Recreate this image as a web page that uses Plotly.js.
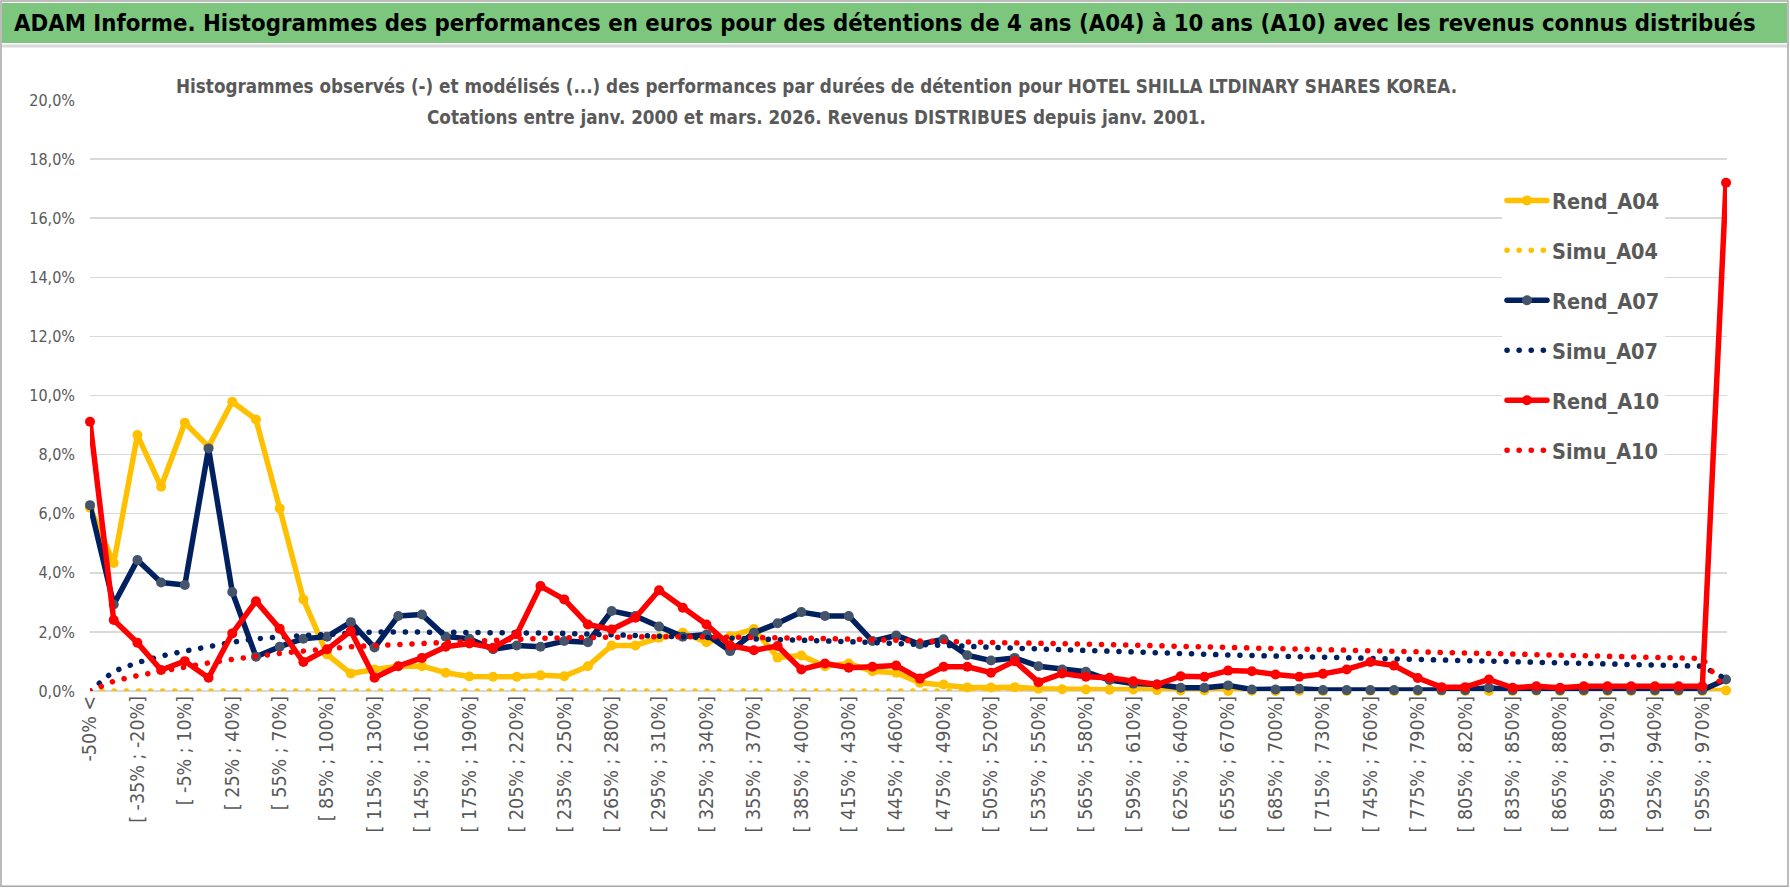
<!DOCTYPE html>
<html>
<head>
<meta charset="utf-8">
<script src="https://cdn.plot.ly/plotly-3.0.1.min.js"></script>
<style>
html,body{margin:0;padding:0;background:#fff;}
#chart{width:1790px;height:888px;}
.js-line{stroke-linecap:round;stroke-linejoin:round;}
</style>
</head>
<body>
<div id="chart"></div>
<script>
const categories = [
"-50% <","[ -50% ; -35%]","[ -35% ; -20%]","[ -20% ; -5%]","[ -5% ; 10%]","[ 10% ; 25%]","[ 25% ; 40%]","[ 40% ; 55%]",
"[ 55% ; 70%]","[ 70% ; 85%]","[ 85% ; 100%]","[ 100% ; 115%]","[ 115% ; 130%]","[ 130% ; 145%]","[ 145% ; 160%]","[ 160% ; 175%]",
"[ 175% ; 190%]","[ 190% ; 205%]","[ 205% ; 220%]","[ 220% ; 235%]","[ 235% ; 250%]","[ 250% ; 265%]","[ 265% ; 280%]","[ 280% ; 295%]",
"[ 295% ; 310%]","[ 310% ; 325%]","[ 325% ; 340%]","[ 340% ; 355%]","[ 355% ; 370%]","[ 370% ; 385%]","[ 385% ; 400%]","[ 400% ; 415%]",
"[ 415% ; 430%]","[ 430% ; 445%]","[ 445% ; 460%]","[ 460% ; 475%]","[ 475% ; 490%]","[ 490% ; 505%]","[ 505% ; 520%]","[ 520% ; 535%]",
"[ 535% ; 550%]","[ 550% ; 565%]","[ 565% ; 580%]","[ 580% ; 595%]","[ 595% ; 610%]","[ 610% ; 625%]","[ 625% ; 640%]","[ 640% ; 655%]",
"[ 655% ; 670%]","[ 670% ; 685%]","[ 685% ; 700%]","[ 700% ; 715%]","[ 715% ; 730%]","[ 730% ; 745%]","[ 745% ; 760%]","[ 760% ; 775%]",
"[ 775% ; 790%]","[ 790% ; 805%]","[ 805% ; 820%]","[ 820% ; 835%]","[ 835% ; 850%]","[ 850% ; 865%]","[ 865% ; 880%]","[ 880% ; 895%]",
"[ 895% ; 910%]","[ 910% ; 925%]","[ 925% ; 940%]","[ 940% ; 955%]","[ 955% ; 970%]","> 970%"
];

const rendA04 = [6.2,4.33,8.66,6.91,9.08,8.27,9.79,9.19,6.18,3.1,1.24,0.59,0.73,0.84,0.84,0.62,0.49,0.48,0.48,0.53,
0.5,0.84,1.54,1.54,1.8,1.97,1.65,1.85,2.1,1.13,1.2,0.84,0.93,0.67,0.62,0.28,0.22,0.12,0.12,0.13,
0.08,0.06,0.05,0.04,0.05,0.03,0.02,0.02,0.0,0.01,0.0,0.01,0.0,0.0,0.01,0.0,0.0,0.01,0.0,0.0,
0.0,0.01,0.0,0.0,0.0,0.0,0.0,0.0,0.0,0.02];

const simuA04 = [0,0,0,0,0,0,0,0,0,0,0,0,0,0,0,0,0,0,0,0,0,0,0,0,0,0,0,0,0,0,0,0,0,0,0,
0,0,0,0,0,0,0,0,0,0,0,0,0,0,0,0,0,0,0,0,0,0,0,0,0,0,0,0,0,0,0,0,0,0,0];

const rendA07 = [6.29,2.93,4.43,3.67,3.59,8.21,3.35,1.16,1.5,1.77,1.84,2.33,1.47,2.54,2.59,1.84,1.77,1.41,1.54,1.5,
1.69,1.65,2.71,2.54,2.18,1.84,1.91,1.35,1.97,2.29,2.67,2.54,2.54,1.69,1.88,1.58,1.75,1.21,1.03,1.12,
0.84,0.73,0.65,0.37,0.25,0.22,0.11,0.11,0.19,0.05,0.05,0.08,0.03,0.03,0.03,0.03,0.03,0.03,0.03,0.11,
0.03,0.03,0.03,0.03,0.03,0.03,0.03,0.03,0.03,0.39];

const simuA07 = [0,0.67,0.96,1.18,1.35,1.52,1.65,1.77,1.84,1.88,1.91,1.97,2.0,2.0,2.0,2.0,1.99,1.98,1.97,1.96,
1.95,1.93,1.9,1.88,1.87,1.85,1.83,1.81,1.79,1.76,1.73,1.7,1.67,1.64,1.6,1.57,1.54,1.51,1.48,1.45,
1.42,1.4,1.37,1.35,1.32,1.3,1.27,1.24,1.22,1.2,1.18,1.16,1.14,1.12,1.1,1.09,1.07,1.05,1.03,1.01,
0.99,0.97,0.95,0.93,0.91,0.89,0.88,0.86,0.84,0.4];

const rendA10 = [9.11,2.4,1.63,0.71,1.01,0.45,1.95,3.04,2.11,0.98,1.41,2.03,0.45,0.84,1.12,1.5,1.61,1.46,1.92,3.55,
3.1,2.25,2.08,2.48,3.41,2.82,2.25,1.54,1.38,1.52,0.73,0.93,0.79,0.82,0.86,0.42,0.82,0.82,0.62,1.01,
0.3,0.59,0.48,0.45,0.33,0.22,0.5,0.48,0.69,0.67,0.56,0.48,0.58,0.73,0.98,0.86,0.44,0.13,0.13,0.39,
0.11,0.16,0.11,0.16,0.16,0.16,0.16,0.16,0.16,17.2];

const simuA10 = [0,0.33,0.52,0.67,0.84,0.95,1.07,1.18,1.27,1.35,1.43,1.5,1.54,1.58,1.62,1.66,1.7,1.73,1.76,1.78,
1.8,1.82,1.83,1.84,1.84,1.84,1.84,1.83,1.82,1.8,1.79,1.78,1.76,1.74,1.72,1.69,1.68,1.66,1.65,1.63,
1.62,1.6,1.58,1.57,1.55,1.53,1.52,1.5,1.49,1.47,1.45,1.43,1.41,1.39,1.38,1.36,1.34,1.32,1.3,1.29,
1.27,1.25,1.23,1.21,1.19,1.17,1.15,1.13,1.1,0.02];

const seriesNames = ["Rend_A04","Simu_A04","Rend_A07","Simu_A07","Rend_A10","Simu_A10"];

const FONT = "Liberation Sans Narrow, Arial Narrow, DejaVu Sans Condensed, sans-serif";
const YEL = "#FFC000", NAVY = "#002060", NAVYM = "#44546A", RED = "#FF0000";
const DOT = "0.1px,12px";

function rend(name, y, color, mcolor, g){
  return {x: categories, y: y, name: name, type: "scatter", mode: "lines+markers",
    line: {color: color, width: 5.5}, marker: {color: mcolor, size: 10, line:{width:0}},
    cliponaxis: false, legendgroup: g};
}
function simu(name, y, color, g){
  return {x: categories, y: y, name: name, type: "scatter", mode: "lines",
    line: {color: color, width: 5.5, dash: DOT}, cliponaxis: false, legendgroup: g};
}

const data = [
  rend(seriesNames[0], rendA04, YEL, YEL, "g1"),
  simu(seriesNames[1], simuA04, YEL, "g2"),
  rend(seriesNames[2], rendA07, NAVY, NAVYM, "g3"),
  simu(seriesNames[3], simuA07, NAVY, "g4"),
  rend(seriesNames[4], rendA10, RED, RED, "g5"),
  simu(seriesNames[5], simuA10, RED, "g6")
];

// pixel helpers for decorative frame (plot area: left 90, right 1727, top 100, bottom 691.5)
const PL = 90, PW = 1637, PB = 691.5, PH = 591.5;
const px = v => (v - PL) / PW;
const py = v => (PB - v) / PH;

const layout = {
  width: 1790, height: 888,
  margin: {l: PL, r: 1790 - PL - PW, t: 100, b: 888 - PB, pad: 0},
  paper_bgcolor: "#ffffff", plot_bgcolor: "#ffffff",
  separators: ", ",
  showlegend: true,
  hovermode: false,
  font: {family: FONT, color: "#595959"},
  title: {
    text: "<b>ADAM Informe. Histogrammes des performances en euros pour des détentions de 4 ans (A04) à 10 ans (A10) avec les revenus connus distribués</b>",
    font: {family: FONT, size: 23.7, color: "#000000"},
    xref: "container", yref: "container", x: 14/1790, xanchor: "left", y: 1 - 23/888, yanchor: "middle"
  },
  xaxis: {
    type: "category", range: [0, 69.04], tickmode: "linear", tick0: 0, dtick: 2,
    tickangle: -90, ticks: "", showgrid: false, zeroline: false, showline: false,
    tickfont: {family: FONT, size: 19.5, color: "#595959"}, fixedrange: true
  },
  xaxis2: {
    overlaying: "x", anchor: "y", type: "linear", range: [0, 69.04], tickmode: "linear", tick0: 0, dtick: 4,
    showgrid: true, gridcolor: "#D9D9D9", gridwidth: 1.5, showticklabels: false, ticks: "", zeroline: false, showline: false
  },
  yaxis: {
    range: [0, 20], tickmode: "linear", tick0: 0, dtick: 2, tickformat: ".1f", ticksuffix: "%",
    showgrid: true, gridcolor: "#D9D9D9", gridwidth: 1.5, zeroline: true, zerolinecolor: "#D9D9D9", zerolinewidth: 1.5,
    ticks: "", ticklabelstandoff: 14, showline: false,
    tickfont: {family: FONT, size: 16, color: "#595959"}, fixedrange: true
  },
  legend: {
    x: px(1502), y: py(180), xanchor: "left", yanchor: "top", bgcolor: "#ffffff",
    font: {family: FONT, size: 21.5, color: "#595959", weight: "bold"},
    itemwidth: 40, tracegroupgap: 19, traceorder: "grouped", borderwidth: 0
  },
  shapes: [
    {type: "rect", xref: "paper", yref: "paper", x0: px(1), x1: px(1788), y0: py(887), y1: py(1),
      line: {color: "#A6A6A6", width: 1.5}, fillcolor: "rgba(0,0,0,0)", layer: "below"},
    {type: "rect", xref: "paper", yref: "paper", x0: px(2), x1: px(1787), y0: py(43), y1: py(3),
      line: {width: 0}, fillcolor: "#7DC67E", layer: "below"},
    {type: "line", xref: "paper", yref: "paper", x0: px(2), x1: px(1787), y0: py(46), y1: py(46),
      line: {color: "#D9D9D9", width: 3}, layer: "below"},
    {type: "rect", xref: "paper", yref: "paper", x0: px(165), x1: px(1468), y0: py(134), y1: py(68),
      line: {width: 0}, fillcolor: "#ffffff", layer: "above"}
  ],
  annotations: [
    {text: "<b>Histogrammes observés (-) et modélisés (...) des performances par durées de détention pour HOTEL SHILLA LTDINARY SHARES KOREA.</b>",
      xref: "paper", yref: "paper", x: px(816), y: py(86), xanchor: "center", yanchor: "middle", showarrow: false,
      font: {family: FONT, size: 18.7, color: "#595959"}},
    {text: "<b>Cotations entre janv. 2000 et mars. 2026. Revenus DISTRIBUES depuis janv. 2001.</b>",
      xref: "paper", yref: "paper", x: px(816), y: py(118), xanchor: "center", yanchor: "middle", showarrow: false,
      font: {family: FONT, size: 18.7, color: "#595959"}}
  ]
};

Plotly.newPlot("chart", data, layout, {staticPlot: true, displayModeBar: false});
</script>
</body>
</html>
